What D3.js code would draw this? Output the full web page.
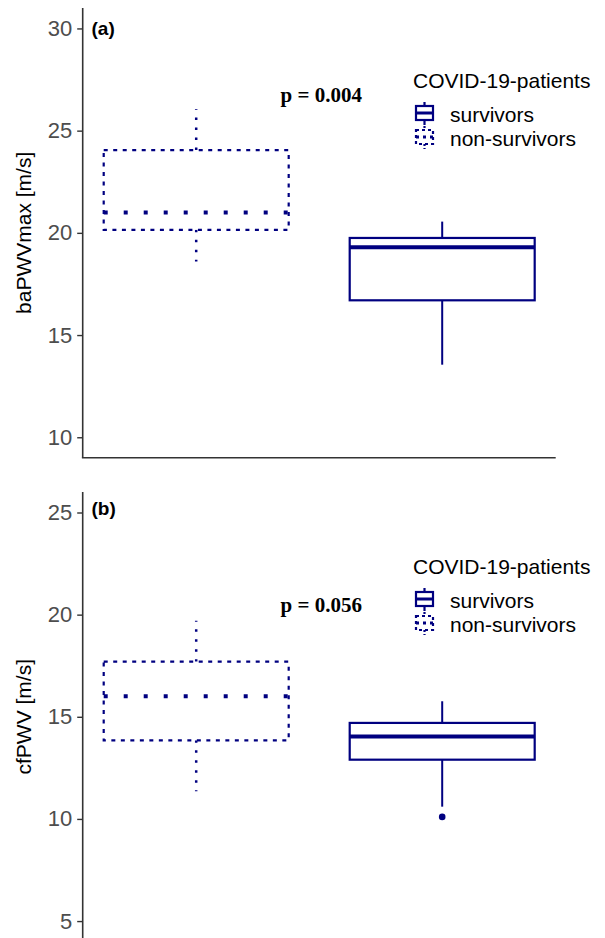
<!DOCTYPE html>
<html>
<head>
<meta charset="utf-8">
<script src="https://cdn.jsdelivr.net/npm/d3@7"></script>
<style>
  html, body { margin: 0; padding: 0; background: #fff; }
  svg { display: block; }
</style>
</head>
<body>
<svg id="chart" width="605" height="938"></svg>
<script>
// ---- data ----
const groups = ["non-survivors", "survivors"];
const legendLabels = ["survivors", "non-survivors"];
const legendTitle = "COVID-19-patients";

// (a) baPWVmax
const baMin    = [18.6, 13.55];
const baQ1     = [20.15, 16.7];
const baMedian = [21.0, 19.3];
const baQ3     = [24.05, 19.75];
const baMax    = [26.05, 20.55];
const baOutliers = [[], []];
const baTicks  = [10, 15, 20, 25, 30];
const baP = "p = 0.004";

// (b) cfPWV
const cfMin    = [11.35, 10.6];
const cfQ1     = [13.85, 12.9];
const cfMedian = [16.0, 14.03];
const cfQ3     = [17.7, 14.7];
const cfMax    = [19.7, 15.76];
const cfOutliers = [[], [10.1]];
const cfTicks  = [5, 10, 15, 20, 25];
const cfP = "p = 0.056";

// ---- drawing ----
const svg = d3.select("#chart");
const COLOR = "#000080";
const AXIS = "#333333";
const SANS = "'Liberation Sans', Arial, sans-serif";

function drawPanel(cfg) {
  const g = svg.append("g");
  const left = 82.7, right = 555.7;
  const y = d3.scaleLinear().domain(cfg.domain).range([cfg.bottom, cfg.top]);
  const x = d3.scalePoint().domain(groups).range([left, right]).padding(0.4614);
  const bw = x.step() * 0.752;

  // y axis
  const yAxis = d3.axisLeft(y).tickValues(cfg.ticks).tickSize(5.5).tickPadding(5);
  const ya = g.append("g").attr("transform", `translate(${left},0)`).call(yAxis);
  ya.select(".domain").remove();
  ya.selectAll(".tick line").attr("stroke", AXIS).attr("stroke-width", 1.4);
  ya.selectAll(".tick text").attr("fill", "#4d4d4d")
    .style("font-family", SANS).style("font-size", "22px");
  g.append("line").attr("x1", left).attr("x2", left)
    .attr("y1", cfg.top).attr("y2", cfg.bottom)
    .attr("stroke", AXIS).attr("stroke-width", 1.6);
  // x axis line
  g.append("line").attr("x1", left - 0.8).attr("x2", right)
    .attr("y1", cfg.bottom).attr("y2", cfg.bottom)
    .attr("stroke", AXIS).attr("stroke-width", 1.6);

  // y label
  g.append("text")
    .attr("transform", `translate(31,${(cfg.top + cfg.bottom) / 2}) rotate(-90)`)
    .attr("text-anchor", "middle")
    .style("font-family", SANS).style("font-size", "21px").attr("fill", "#000")
    .text(cfg.ylabel);

  // panel tag
  g.append("text").attr("x", 91.5).attr("y", cfg.tagY)
    .style("font-family", SANS).style("font-size", "19px").style("font-weight", "bold")
    .text(cfg.tag);

  const styles = {
    "non-survivors": { box: "4,5.5", whisker: "2.5,7.5", median: "4,16", medW: 4, ww: 2.5 },
    "survivors": { box: null, whisker: null, median: null, medW: 4, ww: 2 }
  };

  groups.forEach((grp, i) => {
    const cx = x(grp);
    const st = styles[grp];
    const bg = g.append("g");
    // whiskers
    bg.append("line").attr("x1", cx).attr("x2", cx)
      .attr("y1", y(cfg.q3[i])).attr("y2", y(cfg.max[i]))
      .attr("stroke", COLOR).attr("stroke-width", st.ww).attr("stroke-dasharray", st.whisker);
    bg.append("line").attr("x1", cx).attr("x2", cx)
      .attr("y1", y(cfg.q1[i])).attr("y2", y(cfg.min[i]))
      .attr("stroke", COLOR).attr("stroke-width", st.ww).attr("stroke-dasharray", st.whisker);
    // box
    bg.append("rect").attr("x", cx - bw / 2).attr("width", bw)
      .attr("y", y(cfg.q3[i])).attr("height", y(cfg.q1[i]) - y(cfg.q3[i]))
      .attr("fill", "#fff").attr("stroke", COLOR).attr("stroke-width", 2.2)
      .attr("stroke-dasharray", st.box);
    // median
    bg.append("line").attr("x1", cx - bw / 2).attr("x2", cx + bw / 2)
      .attr("y1", y(cfg.median[i])).attr("y2", y(cfg.median[i]))
      .attr("stroke", COLOR).attr("stroke-width", st.medW).attr("stroke-dasharray", st.median);
    // outliers
    cfg.outliers[i].forEach(v => {
      bg.append("circle").attr("cx", cx).attr("cy", y(v)).attr("r", 3.3).attr("fill", COLOR);
    });
  });

  // p-value
  g.append("text")
    .attr("x", (x(groups[0]) + x(groups[1])) / 2 + 2)
    .attr("y", y(cfg.pY))
    .attr("text-anchor", "middle")
    .style("font-family", "'Liberation Serif', 'Times New Roman', serif")
    .style("font-size", "21px").style("font-weight", "bold")
    .text(cfg.p);

  // legend
  const lg = g.append("g").attr("transform", `translate(0,${cfg.legendY})`);
  lg.append("text").attr("x", 413).attr("y", 0)
    .style("font-family", SANS).style("font-size", "21px").attr("fill", "#000")
    .text(legendTitle);
  const keyStyles = [styles["survivors"], styles["non-survivors"]];
  legendLabels.forEach((lab, j) => {
    const top = 13 + j * 24;
    const kx0 = 416, kx1 = 433, kc = (kx0 + kx1) / 2;
    const st = keyStyles[j];
    const kg = lg.append("g");
    kg.append("line").attr("x1", kc).attr("x2", kc).attr("y1", top + 1).attr("y2", top + 5)
      .attr("stroke", COLOR).attr("stroke-width", 2.2).attr("stroke-dasharray", st.whisker ? "2,2" : null);
    kg.append("line").attr("x1", kc).attr("x2", kc).attr("y1", top + 19).attr("y2", top + 24)
      .attr("stroke", COLOR).attr("stroke-width", 2.2).attr("stroke-dasharray", st.whisker ? "2,2" : null);
    kg.append("rect").attr("x", kx0).attr("y", top + 5).attr("width", kx1 - kx0).attr("height", 14)
      .attr("fill", "#fff").attr("stroke", COLOR).attr("stroke-width", 2.2)
      .attr("stroke-dasharray", st.box ? "3,3" : null);
    kg.append("line").attr("x1", kx0).attr("x2", kx1).attr("y1", top + 12).attr("y2", top + 12)
      .attr("stroke", COLOR).attr("stroke-width", 3).attr("stroke-dasharray", st.median ? "3,4" : null);
    lg.append("text").attr("x", 450).attr("y", top + 21)
      .style("font-family", SANS).style("font-size", "21px").attr("fill", "#000")
      .text(lab);
  });
}

drawPanel({
  domain: [9, 31], top: 8, bottom: 457.7,
  ticks: baTicks, ylabel: "baPWVmax [m/s]", tag: "(a)", tagY: 35,
  min: baMin, q1: baQ1, median: baMedian, q3: baQ3, max: baMax, outliers: baOutliers,
  p: baP, pY: 26.4, legendY: 88
});

drawPanel({
  domain: [4, 26], top: 492.07, bottom: 941.5,
  ticks: cfTicks, ylabel: "cfPWV [m/s]", tag: "(b)", tagY: 515,
  min: cfMin, q1: cfQ1, median: cfMedian, q3: cfQ3, max: cfMax, outliers: cfOutliers,
  p: cfP, pY: 20.13, legendY: 574
});
</script>
</body>
</html>
